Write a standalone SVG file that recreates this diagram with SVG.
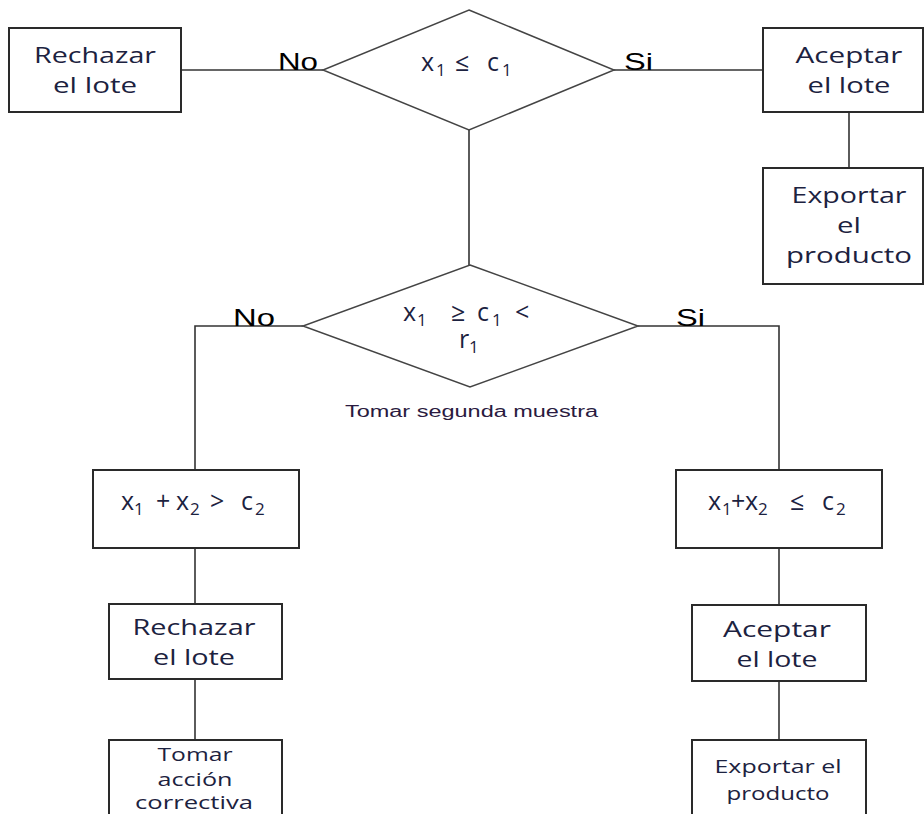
<svg xmlns="http://www.w3.org/2000/svg" width="924" height="814" viewBox="0 0 924 814">
<style>
.box{fill:#fff;stroke:#2a2a2a;stroke-width:2}
.dia{fill:#fff;stroke:#444;stroke-width:1.5}
.ln{stroke:#333;stroke-width:1.6;fill:none}
.t{font-family:"Open Sans","DejaVu Sans",sans-serif;font-size:22px;fill:#1c2240;text-anchor:middle}
.ts{font-family:"Open Sans","DejaVu Sans",sans-serif;font-size:18px;fill:#1c2240;text-anchor:middle}
.m{font-family:"Open Sans","DejaVu Sans",sans-serif;font-size:25px;fill:#1c2240}
.sub{font-size:17px}
.lbl{font-family:"Liberation Sans",Arial,sans-serif;font-size:24px;fill:#000}
.cap{font-family:"Liberation Sans",Arial,sans-serif;font-size:16px;fill:#2a1a40}
</style>
<g id="connectors">
<line class="ln" x1="181" y1="70" x2="323" y2="70"/>
<line class="ln" x1="614" y1="70" x2="763" y2="70"/>
<line class="ln" x1="849" y1="112" x2="849" y2="168"/>
<line class="ln" x1="469" y1="130" x2="469" y2="265"/>
<polyline class="ln" points="303,326 195,326 195,470"/>
<polyline class="ln" points="638,326 779,326 779,470"/>
<line class="ln" x1="195" y1="548" x2="195" y2="604"/>
<line class="ln" x1="195" y1="679" x2="195" y2="740"/>
<line class="ln" x1="779" y1="548" x2="779" y2="605"/>
<line class="ln" x1="779" y1="681" x2="779" y2="740"/>
<text class="lbl" x="278" y="70" textLength="40" lengthAdjust="spacingAndGlyphs">No</text>
<text class="lbl" x="624" y="70" textLength="29" lengthAdjust="spacingAndGlyphs">Si</text>
<text class="lbl" x="233" y="326" textLength="42" lengthAdjust="spacingAndGlyphs">No</text>
<text class="lbl" x="676" y="326" textLength="29" lengthAdjust="spacingAndGlyphs">Si</text>
</g>
<g id="rechazar1">
<rect class="box" x="9" y="28" width="172" height="84"/>
<text class="t" x="95" y="63" textLength="122" lengthAdjust="spacingAndGlyphs">Rechazar</text>
<text class="t" x="95" y="93" textLength="84" lengthAdjust="spacingAndGlyphs">el lote</text>
</g>
<g id="decision1">
<polygon class="dia" points="469,10 614,70 469,130 323,70"/>
<text class="m" y="71"><tspan x="421">x</tspan><tspan x="436" y="76" class="sub">1</tspan><tspan x="455" y="71">≤</tspan><tspan x="487">c</tspan><tspan x="502" y="76" class="sub">1</tspan></text>
</g>
<g id="aceptar1">
<rect class="box" x="763" y="28" width="160" height="84"/>
<text class="t" x="849" y="63" textLength="107" lengthAdjust="spacingAndGlyphs">Aceptar</text>
<text class="t" x="849" y="93" textLength="83" lengthAdjust="spacingAndGlyphs">el lote</text>
</g>
<g id="exportar1">
<rect class="box" x="763" y="168" width="160" height="116"/>
<text class="t" x="849" y="203" textLength="115" lengthAdjust="spacingAndGlyphs">Exportar</text>
<text class="t" x="849" y="233" textLength="24" lengthAdjust="spacingAndGlyphs">el</text>
<text class="t" x="849" y="263" textLength="126" lengthAdjust="spacingAndGlyphs">producto</text>
</g>
<g id="decision2">
<polygon class="dia" points="470,265 638,326 470,387 303,326"/>
<text class="m" y="321"><tspan x="403">x</tspan><tspan x="417" y="326" class="sub">1</tspan><tspan x="451" y="321">≥</tspan><tspan x="477">c</tspan><tspan x="492" y="326" class="sub">1</tspan><tspan x="515" y="321">&lt;</tspan><tspan x="459" y="348">r</tspan><tspan x="469" y="353" class="sub">1</tspan></text>
<text class="cap" x="345" y="417" textLength="253" lengthAdjust="spacingAndGlyphs">Tomar segunda muestra</text>
</g>
<g id="cond-rechazo">
<rect class="box" x="93" y="470" width="206" height="78"/>
<text class="m" y="510"><tspan x="121">x</tspan><tspan x="134" y="515" class="sub">1</tspan><tspan x="156" y="510">+</tspan><tspan x="176">x</tspan><tspan x="190" y="515" class="sub">2</tspan><tspan x="210" y="510">&gt;</tspan><tspan x="241">c</tspan><tspan x="255" y="515" class="sub">2</tspan></text>
</g>
<g id="cond-acepta">
<rect class="box" x="676" y="470" width="206" height="78"/>
<text class="m" y="510"><tspan x="708">x</tspan><tspan x="722" y="515" class="sub">1</tspan><tspan x="731" y="510">+</tspan><tspan x="745">x</tspan><tspan x="758" y="515" class="sub">2</tspan><tspan x="790" y="510">≤</tspan><tspan x="822">c</tspan><tspan x="836" y="515" class="sub">2</tspan></text>
</g>
<g id="rechazar2">
<rect class="box" x="109" y="604" width="173" height="75"/>
<text class="t" x="194" y="635" textLength="123" lengthAdjust="spacingAndGlyphs">Rechazar</text>
<text class="t" x="194" y="665" textLength="82" lengthAdjust="spacingAndGlyphs">el lote</text>
</g>
<g id="aceptar2">
<rect class="box" x="692" y="605" width="174" height="76"/>
<text class="t" x="777" y="637" textLength="108" lengthAdjust="spacingAndGlyphs">Aceptar</text>
<text class="t" x="777" y="667" textLength="81" lengthAdjust="spacingAndGlyphs">el lote</text>
</g>
<g id="accion">
<rect class="box" x="109" y="740" width="173" height="90"/>
<text class="ts" x="195" y="761" textLength="75" lengthAdjust="spacingAndGlyphs">Tomar</text>
<text class="ts" x="195" y="786" textLength="75" lengthAdjust="spacingAndGlyphs">acción</text>
<text class="ts" x="194" y="809" textLength="118" lengthAdjust="spacingAndGlyphs">correctiva</text>
</g>
<g id="exportar2">
<rect class="box" x="692" y="740" width="174" height="90"/>
<text class="ts" x="778" y="773" textLength="127" lengthAdjust="spacingAndGlyphs">Exportar el</text>
<text class="ts" x="778" y="800" textLength="103" lengthAdjust="spacingAndGlyphs">producto</text>
</g>
</svg>
